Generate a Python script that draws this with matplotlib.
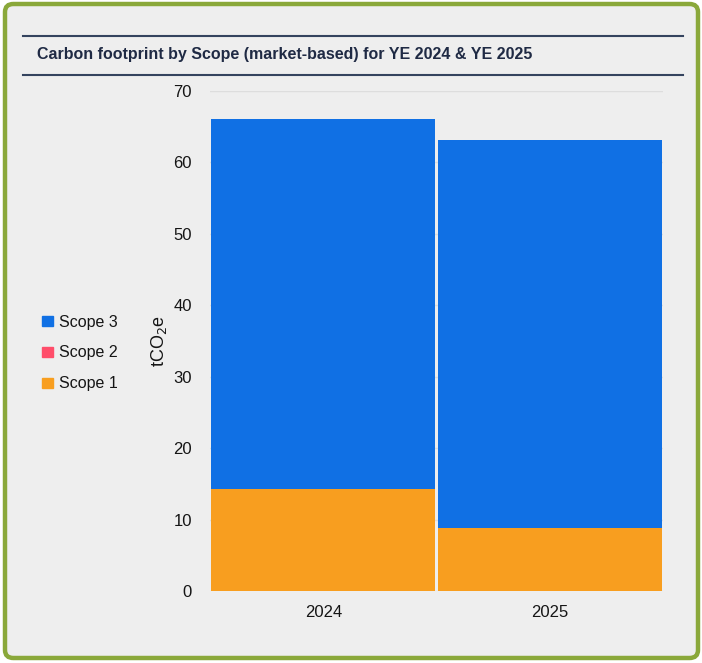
import matplotlib
matplotlib.use('Agg')
import matplotlib.pyplot as plt
from matplotlib.patches import FancyBboxPatch, Rectangle
from matplotlib.lines import Line2D
import numpy as np

years = ['2024', '2025']
scope1 = [14.3, 8.8]
scope2 = [0.0, 0.0]
scope3 = [51.8, 54.3]
yticks = [0, 10, 20, 30, 40, 50, 60, 70]

c1 = '#F89E1F'
c2 = '#FF4D6A'
c3 = '#1070E4'
panel = '#EEEEEE'
txt = '#151515'

plt.rcParams['font.family'] = ['Liberation Sans', 'DejaVu Sans']

fig = plt.figure(figsize=(7.02, 6.63), dpi=100)
fig.patch.set_facecolor('white')

# green rounded border + grey panel (kept behind the axes)
border = FancyBboxPatch((5 / 702, 5 / 663), 693 / 702, 654 / 663,
                        boxstyle='round,pad=0,rounding_size=0.012',
                        transform=fig.transFigure, facecolor=panel,
                        edgecolor='#8AA83A', linewidth=3.2, zorder=-10)
fig.patches.append(border)

# title with rules above and below
for yp in (36, 75):
    fig.add_artist(Line2D([23 / 702, 683 / 702], [1 - yp / 663] * 2,
                          transform=fig.transFigure, color='#34435E', lw=1.5))
fig.text(37 / 702, 1 - 54 / 663,
         'Carbon footprint by Scope (market-based) for YE 2024 & YE 2025',
         fontsize=11.5, fontweight='bold', color='#1F2A44', va='center')

ax = fig.add_axes([210 / 702, 1 - 591 / 663, 453 / 702, 500 / 663])
ax.set_facecolor(panel)
x = np.arange(len(years))
w = 0.99
ax.bar(x, scope1, w, color=c1, zorder=2)
ax.bar(x, scope2, w, bottom=scope1, color=c2, zorder=2)
ax.bar(x, scope3, w, bottom=np.add(scope1, scope2), color=c3, zorder=2)

ax.set_xlim(-0.5, 1.5)
ax.set_ylim(0, 70)
ax.set_yticks(yticks)
ax.set_xticks(x)
ax.set_xticklabels(years)
ax.yaxis.grid(True, color='#DDDDDD', lw=1, zorder=0)
ax.tick_params(length=0, labelsize=12, colors=txt)
ax.tick_params(axis='y', pad=13)
ax.tick_params(axis='x', pad=10)
for s in ax.spines.values():
    s.set_visible(False)
ax.set_ylabel('tCO$_2$e', fontsize=13, color=txt, labelpad=3)

# legend
handles = [Rectangle((0, 0), 1, 1, color=c) for c in (c3, c2, c1)]
fig.legend(handles, ['Scope 3', 'Scope 2', 'Scope 1'],
           loc='center left', bbox_to_anchor=(28 / 702, 1 - 353 / 663),
           frameon=False, fontsize=11.5, handlelength=0.65, handleheight=0.65,
           handletextpad=0.4, labelspacing=1.0, labelcolor=txt)

fig.savefig('out.png', dpi=100, facecolor='white')
